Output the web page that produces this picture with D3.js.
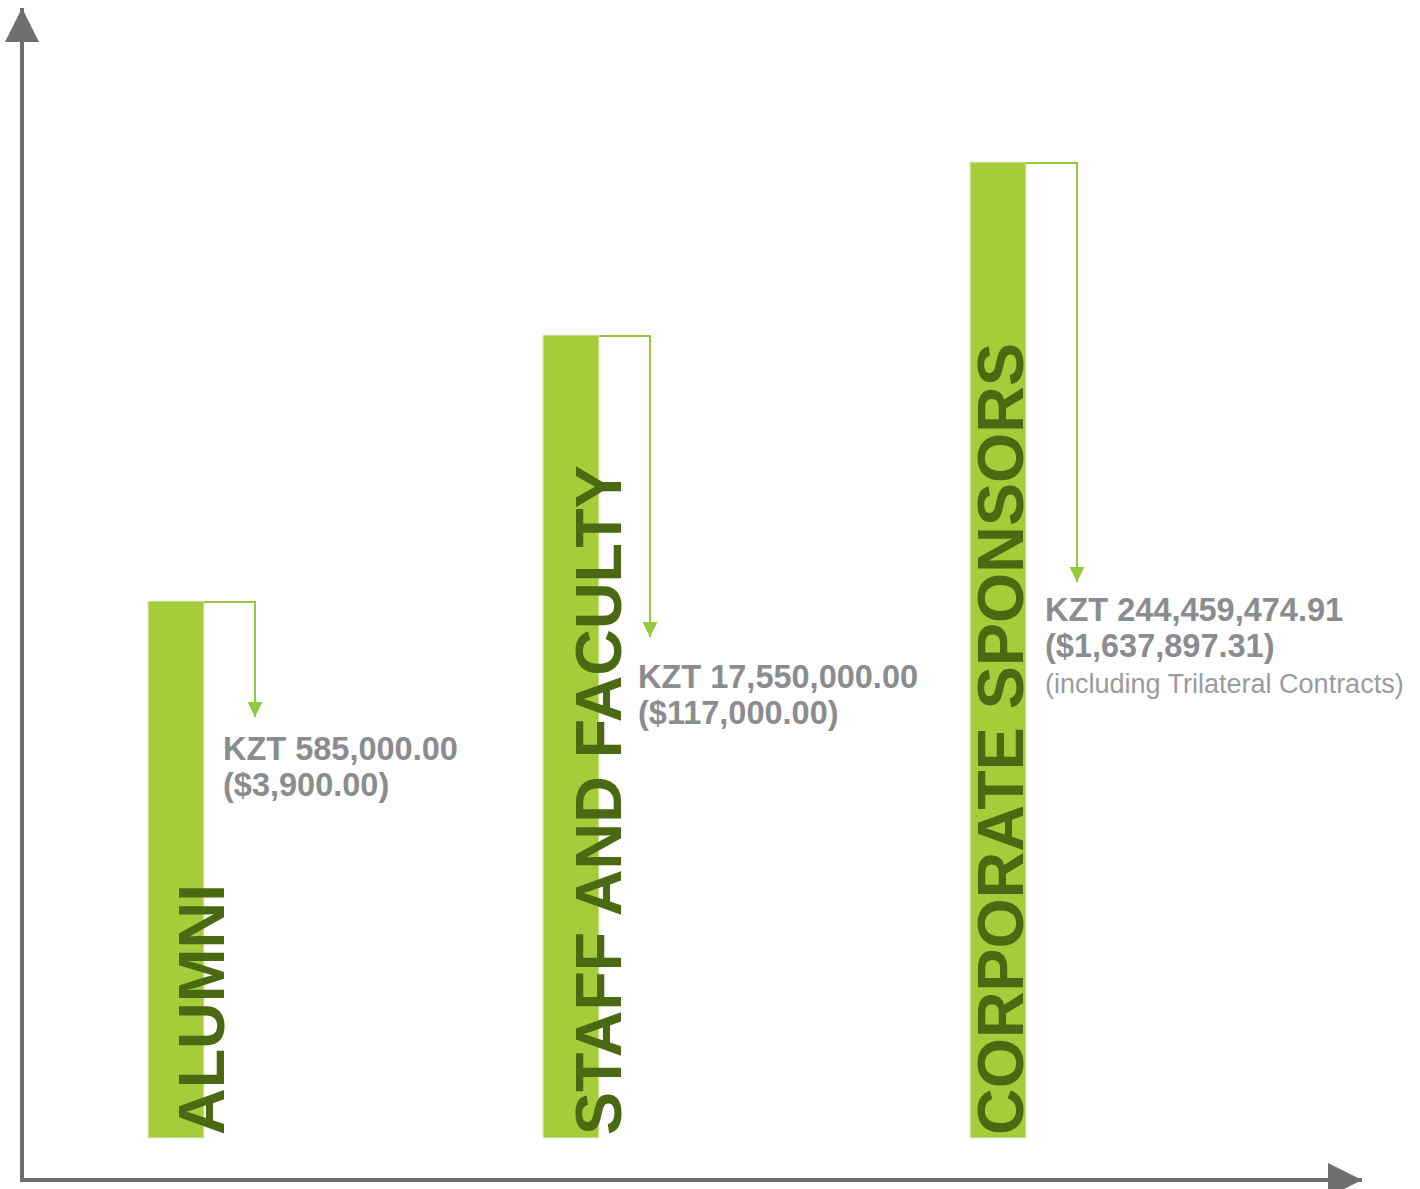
<!DOCTYPE html>
<html>
<head>
<meta charset="utf-8">
<script src="https://cdn.jsdelivr.net/npm/d3@7"></script>
<style>
  html, body { margin: 0; padding: 0; background: #fff; }
  svg { display: block; }
  text { font-family: "Liberation Sans", Arial, Helvetica, sans-serif; }
</style>
</head>
<body>
<svg id="chart" width="1420" height="1189"></svg>
<script>
// ---- data ----
const categories = ["ALUMNI", "STAFF AND FACULTY", "CORPORATE SPONSORS"];
// bar heights as drawn (illustrative index, not proportional to amounts)
const barLevels = [537, 803, 976];
const kztAmounts = ["KZT 585,000.00", "KZT 17,550,000.00", "KZT 244,459,474.91"];
const usdAmounts = ["($3,900.00)", "($117,000.00)", "($1,637,897.31)"];
const notes = ["", "", "(including Trilateral Contracts)"];

// ---- layout ----
const axisX = 22, axisY = 1180;
const baseY = 1138;
const barW = 56;

const svg = d3.select("#chart");

const x = d3.scaleOrdinal().domain(categories).range([148, 543, 970]);
const y = d3.scaleLinear().domain([0, 1000]).range([baseY, baseY - 1000]);

const axisColor = "#6d6e70";
const barColor = "#a5cd39";
const labelColor = "#4b6912";
const lineColor = "#94c83d";
const textColor = "#8b8c8f";

// arrow markers
const defs = svg.append("defs");
defs.append("marker").attr("id", "axArrow")
  .attr("viewBox", "0 0 10 10").attr("refX", 10).attr("refY", 5)
  .attr("markerWidth", 8.5).attr("markerHeight", 8.5).attr("markerUnits", "strokeWidth")
  .attr("orient", "auto")
  .append("path").attr("d", "M0,0L10,5L0,10Z").attr("fill", axisColor);
defs.append("marker").attr("id", "grArrow")
  .attr("viewBox", "0 0 10 10").attr("refX", 10).attr("refY", 5)
  .attr("markerWidth", 7.5).attr("markerHeight", 7.5).attr("markerUnits", "strokeWidth")
  .attr("orient", "auto")
  .append("path").attr("d", "M0,0L10,5L0,10Z").attr("fill", lineColor);

// axes (domain lines only)
const xAxisScale = d3.scaleLinear().domain([0, 1]).range([axisX - 2, 1362]);
const yAxisScale = d3.scaleLinear().domain([0, 1]).range([axisY + 2, 8]);

svg.append("line")
  .attr("x1", xAxisScale(0)).attr("y1", axisY)
  .attr("x2", xAxisScale(1)).attr("y2", axisY)
  .attr("stroke", axisColor).attr("stroke-width", 4)
  .attr("marker-end", "url(#axArrow)");
svg.append("line")
  .attr("x1", axisX).attr("y1", yAxisScale(0))
  .attr("x2", axisX).attr("y2", yAxisScale(1))
  .attr("stroke", axisColor).attr("stroke-width", 4)
  .attr("marker-end", "url(#axArrow)");

// bars
const rows = categories.map((c, i) => ({
  cat: c, level: barLevels[i], kzt: kztAmounts[i], usd: usdAmounts[i], note: notes[i], i
}));

svg.selectAll("rect.bar").data(rows).enter().append("rect")
  .attr("class", "bar")
  .attr("x", d => x(d.cat))
  .attr("y", d => y(d.level))
  .attr("width", barW)
  .attr("height", d => y(0) - y(d.level))
  .attr("fill", barColor)
  .attr("stroke", "#e6eedb").attr("stroke-width", 1);

// rotated category labels
const labelShift = [20, 22, -3];
svg.selectAll("text.cat").data(rows).enter().append("text")
  .attr("class", "cat")
  .attr("transform", d => `translate(${x(d.cat) + barW + labelShift[d.i]},${baseY - 3}) rotate(-90)`)
  .attr("fill", labelColor)
  .attr("font-size", 64.6)
  .attr("font-weight", 700)
  .text(d => d.cat);

// connectors
const connOffset = 51;
const arrowEnd = [717, 637, 582];
svg.selectAll("path.conn").data(rows).enter().append("path")
  .attr("class", "conn")
  .attr("d", d => {
    const x0 = x(d.cat) + barW, xc = x0 + connOffset, y0 = y(d.level) + 1;
    return `M${x0},${y0}H${xc}V${arrowEnd[d.i]}`;
  })
  .attr("fill", "none")
  .attr("stroke", lineColor).attr("stroke-width", 2)
  .attr("marker-end", "url(#grArrow)");

// value text
const textX = [223, 638, 1045];
const textBase = [760, 688, 621];
rows.forEach(d => {
  const g = svg.append("g").attr("transform", `translate(${textX[d.i]},${textBase[d.i]})`);
  g.append("text").attr("y", 0).attr("fill", textColor)
    .attr("font-size", 32.5).attr("font-weight", 700).text(d.kzt);
  g.append("text").attr("y", 36).attr("fill", textColor)
    .attr("font-size", 32.5).attr("font-weight", 700).text(d.usd);
  if (d.note) {
    g.append("text").attr("y", 72).attr("fill", "#9a9b9e")
      .attr("font-size", 27).attr("font-weight", 400).text(d.note);
  }
});
</script>
</body>
</html>
